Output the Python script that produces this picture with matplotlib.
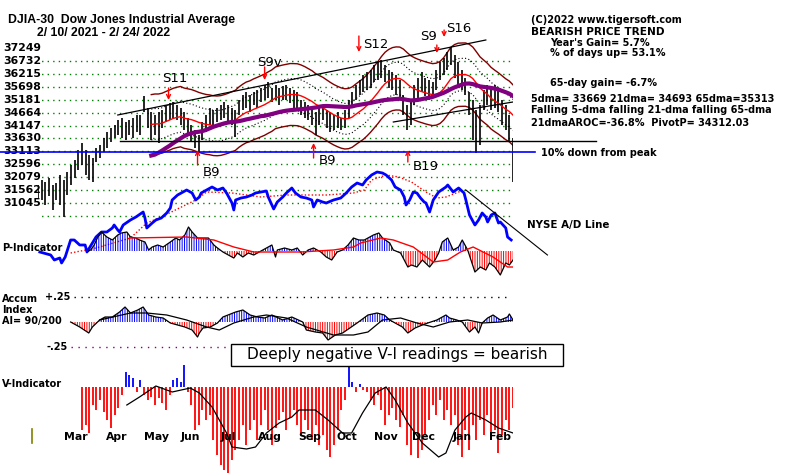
import numpy as np
import pandas as pd
import matplotlib
matplotlib.use("Agg")
import matplotlib.pyplot as plt
from matplotlib.transforms import blended_transform_factory as blend
from matplotlib.patches import Rectangle
from matplotlib.lines import Line2D

# ---- price bars, one every 2 trading days (Feb 10 2021 .. Feb 24 2022)
hi = [31770,31970,31890,32050,31770,31850,32170,31970,32290,32570,
      32770,33170,33450,33170,32970,32850,33250,33370,33650,33890,
      34050,34170,34370,34450,34290,34370,34450,34570,34570,35330,
      34850,34690,34570,34690,34770,34970,35050,35090,34970,34850,
      34690,34450,34170,33970,33770,34290,34570,34850,34770,34850,
      34970,35090,34970,34850,34770,35170,35370,35490,35370,35490,
      35570,35650,35770,35890,35650,35770,35650,35730,35770,35650,
      35570,35490,35170,35090,34970,34850,34690,34850,34970,34770,
      34690,34570,34690,34450,34770,35170,35490,35770,35970,36170,
      36290,36370,36570,36690,36770,36570,36370,36290,36170,35970,
      35370,34970,35170,35770,36050,36290,36050,35970,35890,36370,
      36690,36850,37090,37290,36970,36690,36370,36050,35490,35170,
      34770,34970,35570,35770,35650,35770,35570,35170,34970,34570,
      33650]
lo = [31250,31170,30970,31330,30770,31170,30970,30490,31370,31770,
      32050,32370,32570,32170,31970,31890,32690,32850,33090,33250,
      33490,33650,33770,33650,33570,33770,33650,33890,33770,34690,
      34050,33570,33770,33450,34050,34290,34370,34450,34370,34170,
      33970,33770,33490,33250,33090,33570,33890,34170,34050,34290,
      34370,34450,34290,34170,33690,34570,34770,34850,34690,34970,
      34850,35090,35170,35250,35090,35170,34970,35170,35170,35050,
      34850,34770,34570,34450,34370,34170,33770,34170,34370,34050,
      33890,33970,34050,33970,34050,34450,34850,35170,35370,35490,
      35570,35650,35890,35970,36050,35890,35650,35570,35370,35250,
      34570,33970,34170,34970,35250,35490,35330,35170,35250,35570,
      35970,36170,36370,36570,36050,35770,35570,35370,34570,33570,
      33050,33370,34770,34970,34770,34850,34690,34170,33970,33490,
      31890]

price_ticks = [37249,36732,36215,35698,35181,34664,34147,33630,33113,32596,32079,31562,31045]
grid_levels = [36732,36215,35698,35181,34664,34147,33630,33113,32596,32079,31562,31045,30528]

sig_name = ["S11","S9v","S12","S9","S16","B9","B9","B19"]
sig_day = [72,125,177,220,224,88,152,204]
sig_price = [35169,35969,37089,37049,37689,33169,33449,33169]

# NYSE A/D line (index units)
ad_day = [1,7,9,12,13,15,18,20,23,26,27,30,32,35,38,41,42,44,45,47,51,54,58,59,60,63,65,68,71,73,
          74,77,80,82,85,87,89,90,93,96,99,102,104,107,108,109,112,115,118,120,123,126,127,130,132,
          135,137,140,142,145,148,151,152,154,157,159,163,167,170,173,176,179,181,184,187,190,192,195,
          197,200,202,203,205,207,209,211,213,214,216,218,221,225,226,229,232,235,236,238,241,243,245,
          247,248,250,252,254,255,258,259,261]
ad_val = [-2,-5,-10,-8,-13,-7,10,10,5,5,-2,7,13,18,18,22,25,20,18,25,30,33,38,32,22,27,30,32,37,42,
          50,55,58,60,57,50,53,57,60,63,60,62,57,47,40,50,52,53,55,57,58,59,53,41,48,
          53,57,62,57,53,52,50,43,50,48,47,50,52,57,63,67,65,70,75,78,77,75,70,
          63,60,53,45,50,58,57,52,48,47,38,50,58,63,65,58,62,57,50,35,25,30,37,
          33,28,35,37,27,28,22,13,10]
ad_ma_day = [18,32,51,60,68,78,87,93,107,123,137,159,174,180,184,192,199,206,214,220,225,232,236]
ad_ma_val = [-3,2,12,27,33,42,50,58,57,53,55,55,57,60,70,75,73,68,58,52,53,58,60]

# P-Indicator
p_day = [28,29,31,33,35,38,41,44,46,49,51,54,56,59,61,63,66,69,73,76,78,81,83,85,88,
         89,94,97,99,102,105,108,110,113,116,119,122,126,129,131,132,136,140,143,146,
         149,152,156,159,162,165,168,171,174,177,180,182,185,188,190,194,196,200,204,206,
         209,212,216,219,221,223,226,229,232,234,237,241,244,247,249,252,255,258,260,262]
p_val = [0,1,6,14,19,14,11,16,18,19,14,13,11,9,1,4,6,4,9,13,11,16,24,19,13,
         13,13,6,3,-1,-4,-7,-2,-6,-2,-4,-1,3,6,-6,1,3,1,3,-4,
         1,3,-1,-6,-9,-1,1,6,13,11,11,13,16,18,13,8,1,-2,-16,-14,
         -16,-9,-16,-9,-2,9,13,1,4,11,1,-21,-16,-19,-12,-16,-24,-12,-14,-9]
p_ma_day = [51,82,97,108,119,145,163,174,178,189,196,207,218,226,233,240,251,259,262]
p_ma_val = [13,14,11,4,-1,-1,1,4,8,13,11,4,-11,-9,-1,4,-6,-16,-16]

# Accumulation index
ai_day = [18,23,28,30,34,37,41,45,48,51,55,58,61,65,69,73,77,81,85,88,89,91,95,99,102,
          109,113,117,121,125,129,135,140,146,148,153,157,160,164,168,172,176,182,187,191,
          194,197,201,204,208,212,215,220,225,227,231,234,238,241,243,245,248,251,255,259,260,262]
ai_val = [0.00,-0.05,-0.11,-0.05,0.02,0.05,0.05,0.10,0.15,0.09,0.12,0.15,0.07,0.05,0.04,
          -0.01,-0.03,-0.05,-0.08,-0.15,-0.11,-0.06,-0.05,-0.01,0.05,0.10,0.12,0.07,0.05,0.04,
          0.07,0.02,0.05,0.00,-0.08,-0.10,-0.11,-0.18,-0.13,-0.11,-0.06,-0.01,0.07,0.09,0.07,
          0.02,-0.01,-0.05,-0.11,-0.06,-0.03,-0.01,0.02,0.07,0.04,0.02,0.00,-0.10,-0.05,-0.11,
          -0.01,0.04,0.07,0.02,0.05,0.08,0.02]
ai_ma_day = [34,51,60,71,82,93,100,108,119,126,137,148,163,174,182,190,200,209,218,227,237,245,255,262]
ai_ma_val = [0.02,0.09,0.09,0.07,0.02,-0.05,-0.08,-0.01,0.05,0.07,0.04,-0.05,-0.13,-0.13,
             -0.10,0.02,0.04,-0.01,-0.05,0.00,0.02,-0.01,0.00,0.02]

# V-Indicator, same 2-day steps as the price bars (first 12 have no reading)
v_ind = [0]*12 + [
    -43,-38,-46,-18,-23,-13,-25,-33,-41,-28,
    -21,-8,15,12,9,-5,7,-8,-13,-10,
    -18,-11,-16,-23,-8,7,9,5,22,-5,
    -18,-43,-38,-23,-33,-28,-53,-68,-78,-83,
    -86,-73,-63,-53,-38,-58,-43,-33,-53,-38,
    -23,-43,-58,-41,-33,-25,-43,-31,-23,-38,
    -48,-33,-43,-53,-38,-58,-48,-63,-70,-58,
    -43,-23,-13,20,5,-5,3,-3,-5,-13,
    -18,-8,-23,-38,-28,-21,-33,-40,-28,-58,
    -68,-53,-71,-63,-48,-33,-18,-28,-13,-33,
    -23,-38,-28,-58,-70,-43,-63,-38,-53,-33,
    -48,-28,-53,-43,-66,-48,-33,-43,-21]
v_ma_day = [49,56,65,74,84,89,96,104,107,115,120,126,133,140,144,153,160,168,173,179,
            186,192,197,204,212,221,225,230,236,239,247,254,262]
v_ma_val = [-18,-10,1,-5,-1,-6,-20,-46,-60,-62,-60,-46,-36,-30,-23,-23,-33,-46,-46,-26,
            -6,0,-13,-36,-56,-70,-66,-43,-30,-26,-33,-41,-46]

months = ["Mar","Apr","May","Jun","Jul","Aug","Sep","Oct","Nov","Dec","Jan","Feb"]
month_day = [12,35,56,76,98,119,141,162,183,204,226,246]

W, H = 800, 475
plt.rcParams["hatch.linewidth"] = 0.7
fig = plt.figure(figsize=(8, 4.75), dpi=100)
fig.patch.set_facecolor("white")
BOLD = dict(fontweight="bold", family="DejaVu Sans")
TITLE = dict(fontweight="bold", family="Liberation Sans")

def fx(x):
    return x / W

def fy(y):
    return 1 - y / H

def panel(top, bot, lo_, hi_):
    ax = fig.add_axes([fx(38), fy(bot), 475 / W, (bot - top) / H])
    ax.set_xlim(0, 262)
    ax.set_ylim(lo_, hi_)
    ax.axis("off")
    return ax

def ftext(x, y, s, size=7.0, ha="left", font=BOLD):
    fig.text(fx(x), fy(y), s, fontsize=size, va="center", ha=ha, **font)

# ---------------- price panel
axp = panel(30, 230, 29969, 37969)
tr = blend(fig.transFigure, axp.transData)
for lev in grid_levels:
    axp.plot([-1, 262], [lev, lev], color="#008000", lw=1, ls=(0, (1, 3)), zorder=1)
for t in price_ticks:
    axp.text(fx(41), t, str(t), transform=tr, ha="right", va="center", fontsize=7.8, zorder=1, **BOLD)

bar_days = np.linspace(0, 262, len(hi))
hi_a = np.array(hi, float)
lo_a = np.array(lo, float)
mid = pd.Series((hi_a + lo_a) / 2)
ma21 = mid.rolling(11, min_periods=6).mean().to_numpy()
ma65 = mid.rolling(33, min_periods=20).mean().to_numpy()
ma21[:31] = np.nan
ma65[:31] = np.nan

axp.plot(bar_days, ma21 * 1.035, color="#800000", lw=1, zorder=2)
axp.plot(bar_days, ma21 * 0.965, color="#800000", lw=1, zorder=2)
axp.plot(bar_days, ma21 * 1.018, color="black", lw=0.8, ls=(0, (1, 2)), zorder=2)
axp.plot(bar_days, ma21 * 0.982, color="black", lw=0.8, ls=(0, (1, 2)), zorder=2)
axp.vlines(bar_days, lo_a, hi_a, color="black", lw=1.2, zorder=3)
axp.plot(bar_days, ma21, color="red", lw=1, zorder=4)
axp.plot(bar_days, ma65, color="#800080", lw=3, zorder=4)

axp.plot([44, 247], [34569, 37569], color="black", lw=0.9, zorder=4)
axp.plot([196, 262], [34289, 35089], color="black", lw=0.9, zorder=4)
axp.plot([45, 308], [33529, 33529], color="black", lw=1.0, zorder=4, clip_on=False)
axp.plot([-21, 274], [33089, 33089], color="#0000ff", lw=1.2, zorder=4, clip_on=False)

arrow_len = [12, 13, 16, 8, 7, -15, -15, -12]
lab_off = [(-6, 22), (-7, 18), (4, 8), (-17, 16), (2, 9), (5, -22), (5, -17), (5, -17)]
for name, d, pr, ln, (dx, dy) in zip(sig_name, sig_day, sig_price, arrow_len, lab_off):
    axp.annotate("", xy=(d, pr), xytext=(0, ln), textcoords="offset pixels",
                 arrowprops=dict(arrowstyle="->", color="red", lw=1, shrinkA=0, shrinkB=0,
                                 mutation_scale=7), zorder=6)
    axp.annotate(name, xy=(d, pr), xytext=(dx, dy), textcoords="offset pixels",
                 ha="left", va="center", fontsize=9.5, zorder=6)

# ---------------- A/D line
axa = panel(150, 270, -20, 100)
axa.plot(ad_ma_day, ad_ma_val, color="red", lw=1, ls=(0, (1, 1.5)))
axa.plot(ad_day, ad_val, color="#0000ff", lw=2)
axa.plot([236, 281], [60, -5], color="black", lw=0.8, clip_on=False)

# ---------------- P-Indicator
axi = panel(215, 290, -39, 36)
pv = np.array(p_val, float)
axi.fill_between(p_day, 0, pv, where=pv >= 0, interpolate=True, facecolor="none",
                 edgecolor="#0000ff", hatch="|||||||", linewidth=0)
axi.fill_between(p_day, 0, pv, where=pv <= 0, interpolate=True, facecolor="none",
                 edgecolor="red", hatch="|||||||", linewidth=0)
axi.plot(p_day, p_val, color="black", lw=0.9)
axi.plot(p_ma_day, p_ma_val, color="red", lw=1)

# ---------------- Accumulation index
axc = panel(285, 360, -0.38, 0.37)
av = np.array(ai_val, float)
axc.plot([20, 260], [0.25, 0.25], color="black", lw=1, ls=(0, (1, 4)), clip_on=False)
axc.plot([18, 260], [-0.25, -0.25], color="#800080", lw=1, ls=(0, (1, 4)), clip_on=False)
axc.fill_between(ai_day, 0, av, where=av >= 0, interpolate=True, facecolor="none",
                 edgecolor="#0000ff", hatch="|||||||", linewidth=0)
axc.fill_between(ai_day, 0, av, where=av <= 0, interpolate=True, facecolor="none",
                 edgecolor="red", hatch="|||||||", linewidth=0)
axc.plot(ai_day, ai_val, color="black", lw=0.9)
axc.plot(ai_ma_day, ai_ma_val, color="black", lw=0.9)

# ---------------- V-Indicator
axv = panel(355, 475, -88, 32)
vv = np.array(v_ind, float)
cols = ["#0000ff" if v > 0 else "red" for v in vv]
axv.vlines(bar_days, 0, vv, colors=cols, lw=1.3)
axv.plot(v_ma_day, v_ma_val, color="black", lw=0.9)
mtr = blend(axv.transData, fig.transFigure)
for m, d in zip(months, month_day):
    axv.text(d + 2.5, fy(437), m, transform=mtr, ha="left", va="center", fontsize=7.8, **BOLD)

# ---------------- texts
ftext(8, 20, "DJIA-30  Dow Jones Industrial Average", size=8.8, font=TITLE)
ftext(37, 33, "2/ 10/ 2021 - 2/ 24/ 2022", size=8.8, font=TITLE)
ftext(531, 20, "(C)2022 www.tigersoft.com")
ftext(531, 32, "BEARISH PRICE TREND", size=7.6)
ftext(550, 43, "Year's Gain= 5.7%")
ftext(550, 53, "% of days up= 53.1%")
ftext(550, 83, "65-day gain= -6.7%")
ftext(531, 99, "5dma= 33669 21dma= 34693 65dma=35313")
ftext(531, 110, "Falling 5-dma falling 21-dma falling 65-dma")
ftext(531, 123, "21dmaAROC=-36.8%  PivotP= 34312.03")
ftext(541, 153, "10% down from peak")
ftext(527, 225, "NYSE A/D Line", size=7.4)
ftext(2, 248, "P-Indicator")
ftext(2, 299, "Accum")
ftext(2, 310, "Index")
ftext(2, 321, "AI= 90/200")
ftext(70, 297, "+.25", ha="right")
ftext(68, 347, "-.25", ha="right")
ftext(2, 384, "V-Indicator")

fig.add_artist(Rectangle((fx(231), fy(366)), 332 / W, 22 / H, transform=fig.transFigure,
                         facecolor="white", edgecolor="black", lw=1, zorder=5))
fig.text(fx(397), fy(355), "Deeply negative V-I readings = bearish", ha="center", va="center",
         fontsize=11, zorder=6)
fig.add_artist(Line2D([fx(32), fx(32)], [fy(429), fy(443)], color="#808000", lw=1.2))

fig.savefig("out.png", dpi=100, facecolor="white")
